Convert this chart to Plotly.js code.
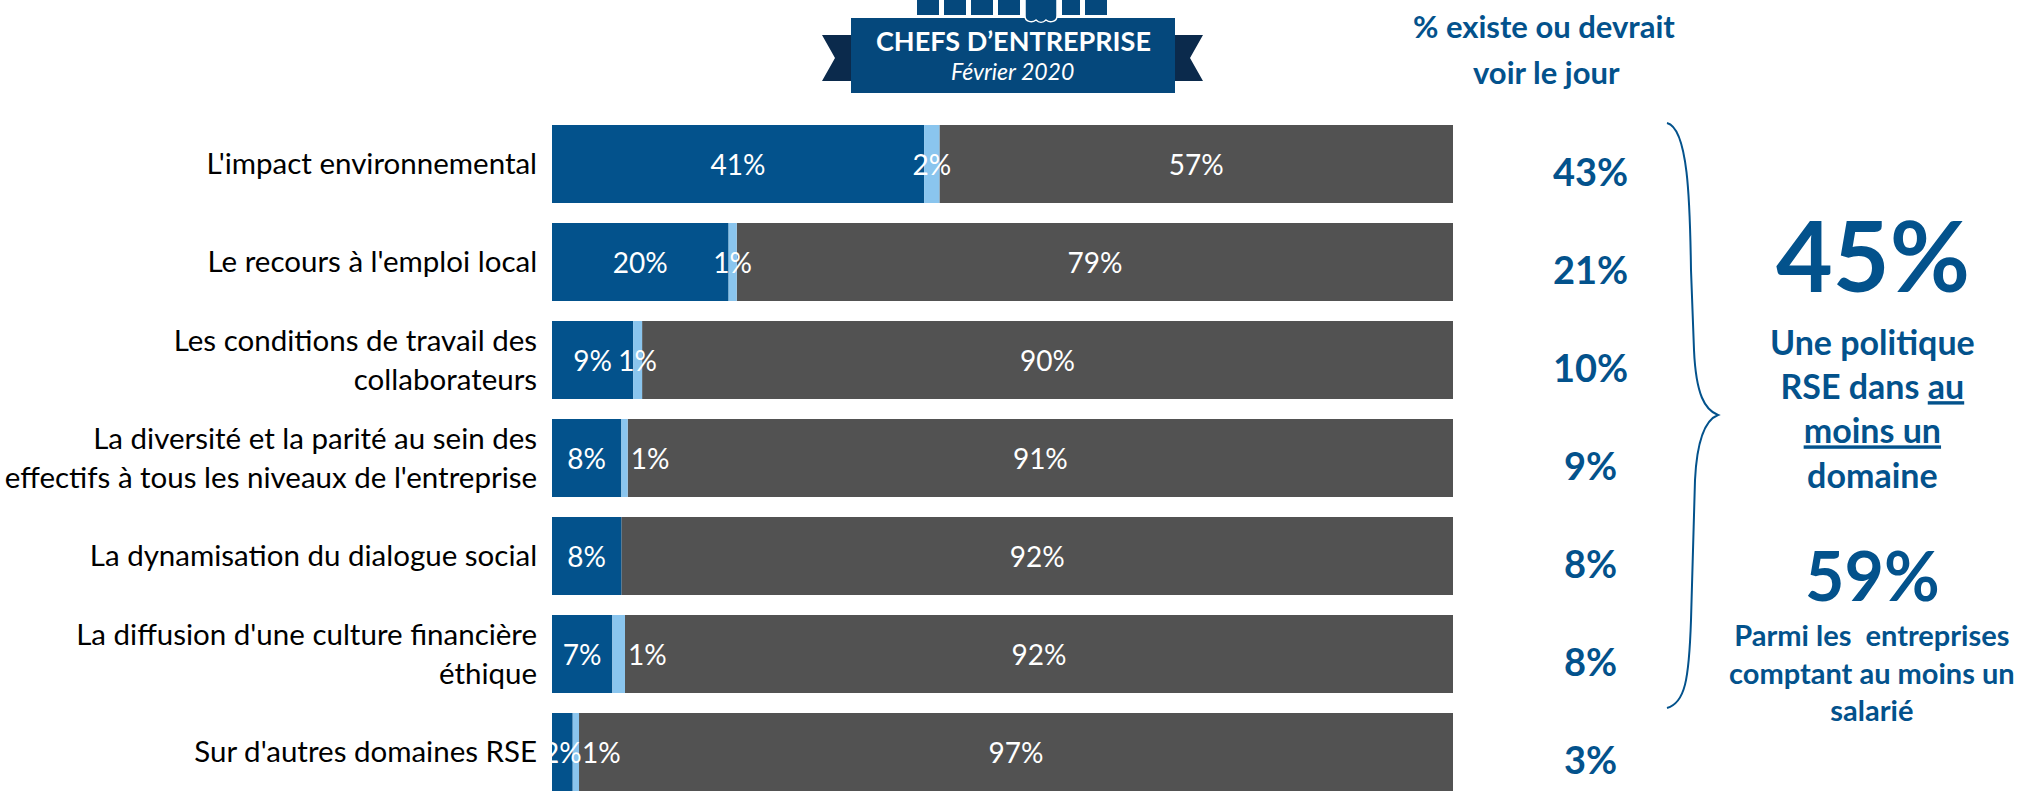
<!DOCTYPE html>
<html><head><meta charset="utf-8">
<script src="https://cdn.plot.ly/plotly-3.0.1.min.js"></script>
<style>html,body{margin:0;padding:0;background:#fff;} #chart{width:2028px;height:792px;}</style>
</head><body><div id="chart"></div>
<script>
// ---- data ----
const categories = [
  "L'impact environnemental",
  "Le recours à l'emploi local",
  "Les conditions de travail des<br>collaborateurs",
  "La diversité et la parité au sein des<br>effectifs à tous les niveaux de l'entreprise",
  "La dynamisation du dialogue social",
  "La diffusion d'une culture financière<br>éthique",
  "Sur d'autres domaines RSE"
];
const existe  = [41.3, 19.6, 9.0, 7.7, 7.7, 6.7, 2.3];
const devrait = [1.7, 0.9, 1.0, 0.7, 0, 1.4, 0.7];
const non     = [57.0, 79.5, 90.0, 91.6, 92.3, 91.9, 97.0];
const existeLabels  = ['41%','20%','9%','8%','8%','7%','2%'];
const devraitLabels = ['2%','1%','1%','1%','','1%','1%'];
const nonLabels     = ['57%','79%','90%','91%','92%','92%','97%'];
const totals        = ['43%','21%','10%','9%','8%','8%','3%'];

// ---- layout helpers ----
const W = 2028, H = 792;
const PL = 552, PW = 901, PT = 115, PH = H - PT;
const px = x => (x - PL) / PW;
const py = y => (PT + PH - y) / PH;
const FONT = 'Lato, "Open Sans", sans-serif';
const BLUE = '#03528c', LIGHT = '#8ac5ee', GRAY = '#525252', TXTBLUE = '#03528c';

const baseLight = existe.slice();
const baseNon = existe.map((v, i) => v + devrait[i]);

const barFont = {family: FONT, size: 28, color: '#ffffff'};
const common = {type: 'bar', orientation: 'h', y: categories, hoverinfo: 'skip',
  textangle: 0, constraintext: 'none', insidetextanchor: 'middle', cliponaxis: false,
  insidetextfont: barFont, outsidetextfont: barFont};

const series = [
  {name: 'Non', x: non, base: baseNon, text: nonLabels, color: GRAY,
   pos: 'inside'},
  {name: 'Existe', x: existe, base: existe.map(() => 0), text: existeLabels, color: BLUE,
   pos: 'inside'},
  {name: 'Devrait voir le jour', x: devrait, base: baseLight, text: devraitLabels, color: LIGHT,
   pos: ['inside','inside','inside','outside','inside','outside','outside']}
];

const traces = [];
// coloured bars first
series.forEach(s => traces.push(Object.assign({}, common, {name: s.name, x: s.x, base: s.base,
  marker: {color: s.color, line: {width: 0}}})));
// then the value labels on top of every bar
series.forEach(s => traces.push(Object.assign({}, common, {name: s.name + ' (labels)', x: s.x, base: s.base,
  text: s.text, textposition: s.pos, marker: {color: 'rgba(0,0,0,0)', line: {width: 0}}})));

const annotations = [];
categories.forEach((c, i) => {
  annotations.push({xref: 'paper', yref: 'y', x: px(1590), y: c, text: totals[i], showarrow: false,
    xanchor: 'center', yanchor: 'middle', yshift: -7,
    font: {family: FONT, size: 38, color: TXTBLUE, weight: 700}});
});
annotations.push({xref: 'paper', yref: 'paper', x: px(1544), y: py(26), text: '% existe ou devrait',
  showarrow: false, xanchor: 'center', yanchor: 'middle',
  font: {family: FONT, size: 31, color: TXTBLUE, weight: 700}});
annotations.push({xref: 'paper', yref: 'paper', x: px(1546), y: py(72), text: 'voir le jour',
  showarrow: false, xanchor: 'center', yanchor: 'middle',
  font: {family: FONT, size: 31, color: TXTBLUE, weight: 700}});
annotations.push({xref: 'paper', yref: 'paper', x: px(1873), y: py(254), text: '45%',
  showarrow: false, xanchor: 'center', yanchor: 'middle',
  font: {family: FONT, size: 98, color: TXTBLUE, weight: 700}});
annotations.push({xref: 'paper', yref: 'paper', x: px(1872), y: py(408),
  text: 'Une politique<br>RSE dans <u>au</u><br><u>moins un</u><br>domaine',
  showarrow: false, xanchor: 'center', yanchor: 'middle', align: 'center',
  font: {family: FONT, size: 34, color: TXTBLUE, weight: 700}});
annotations.push({xref: 'paper', yref: 'paper', x: px(1872), y: py(574), text: '59%',
  showarrow: false, xanchor: 'center', yanchor: 'middle',
  font: {family: FONT, size: 68, color: TXTBLUE, weight: 700}});
annotations.push({xref: 'paper', yref: 'paper', x: px(1872), y: py(672),
  text: 'Parmi les  entreprises<br>comptant au moins un<br>salarié',
  showarrow: false, xanchor: 'center', yanchor: 'middle', align: 'center',
  font: {family: FONT, size: 29, color: TXTBLUE, weight: 700}});
// badge texts
annotations.push({xref: 'paper', yref: 'paper', x: px(1013), y: py(41), text: 'CHEFS D’ENTREPRISE',
  showarrow: false, xanchor: 'center', yanchor: 'middle',
  font: {family: FONT, size: 27, color: '#ffffff', weight: 700}});
annotations.push({xref: 'paper', yref: 'paper', x: px(1012), y: py(71), text: '<i>Février 2020</i>',
  showarrow: false, xanchor: 'center', yanchor: 'middle',
  font: {family: FONT, size: 23, color: '#ffffff'}});

function pathStr(pts) {
  return pts.map(p => p[0] + ' ' + p.slice(1).reduce((acc, v, k, arr) => {
    if (k % 2 === 0) acc.push(px(v) + ',' + py(arr[k + 1]));
    return acc;
  }, []).join(' ')).join(' ');
}
const bracePath = pathStr([
  ['M', 1667, 123],
  ['C', 1688, 128, 1690, 200, 1691, 270],
  ['L', 1694, 350],
  ['C', 1696, 395, 1705, 410, 1718, 415],
  ['C', 1705, 420, 1697, 440, 1695, 480],
  ['L', 1691, 620],
  ['C', 1689, 680, 1685, 703, 1667, 708]
]);

const shapes = [
  {type: 'path', xref: 'paper', yref: 'paper', path: bracePath, line: {color: TXTBLUE, width: 2}},
  {type: 'path', xref: 'paper', yref: 'paper', fillcolor: '#0b2a4c', line: {width: 0},
    path: pathStr([['M', 822, 35], ['L', 851, 35], ['L', 851, 81], ['L', 822, 81], ['L', 835, 58], ['Z']])},
  {type: 'path', xref: 'paper', yref: 'paper', fillcolor: '#0b2a4c', line: {width: 0},
    path: pathStr([['M', 1175, 35], ['L', 1203, 35], ['L', 1190, 58], ['L', 1203, 81], ['L', 1175, 81], ['Z']])},
  {type: 'rect', xref: 'paper', yref: 'paper', x0: px(851), x1: px(1175), y0: py(93), y1: py(18),
    fillcolor: '#05487c', line: {width: 0}}
];
[[917, 939], [944, 966], [971, 993], [998, 1020], [1062, 1080], [1085, 1107]].forEach(c => {
  shapes.push({type: 'rect', xref: 'paper', yref: 'paper', x0: px(c[0]), x1: px(c[1]), y0: py(15), y1: py(-5),
    fillcolor: '#05487c', line: {width: 0}});
});
shapes.push({type: 'path', xref: 'paper', yref: 'paper', fillcolor: '#05487c', line: {color: '#ffffff', width: 1.5},
  path: pathStr([['M', 1025, -5], ['L', 1057, -5], ['L', 1057, 16], ['C', 1057, 22, 1050, 23, 1046, 20],
    ['C', 1043, 23, 1039, 23, 1036, 20], ['C', 1032, 23, 1025, 22, 1025, 16], ['Z']])});

const layout = {
  width: W, height: H,
  margin: {l: PL, r: W - PL - PW, t: PT, b: 0, pad: 0, autoexpand: false},
  paper_bgcolor: '#ffffff', plot_bgcolor: '#ffffff',
  barmode: 'overlay', bargap: 0.204,
  showlegend: false,
  xaxis: {range: [0, 100], visible: false, fixedrange: true},
  yaxis: {type: 'category', range: [6.408, -0.5], showgrid: false, zeroline: false, showline: false,
    ticks: 'outside', ticklen: 8, tickcolor: 'rgba(0,0,0,0)', automargin: false,
    tickfont: {family: FONT, size: 29.5, color: '#000000'}},
  annotations: annotations,
  shapes: shapes
};

Plotly.newPlot('chart', traces, layout, {staticPlot: true, displayModeBar: false});
</script>
</body></html>
